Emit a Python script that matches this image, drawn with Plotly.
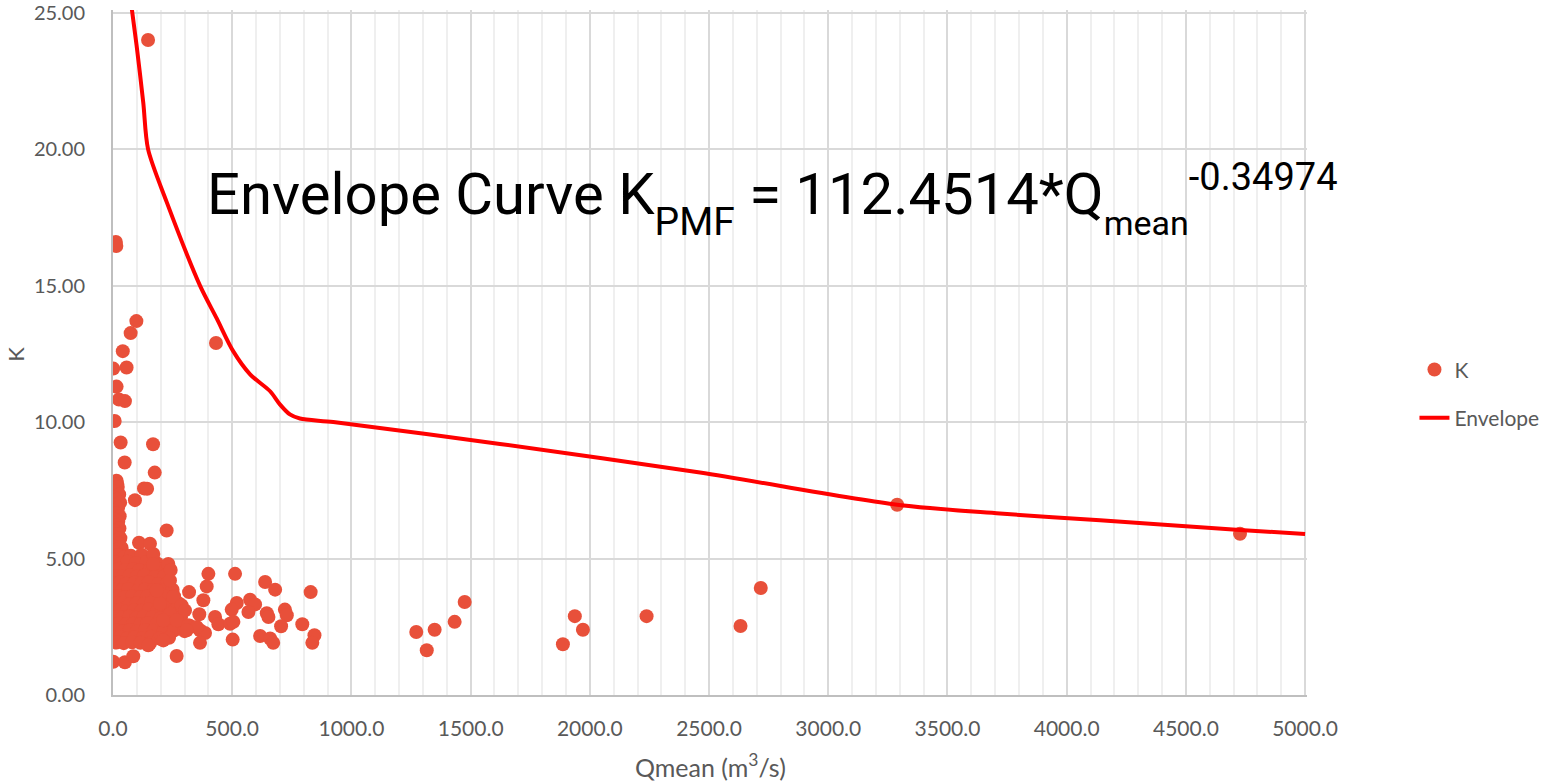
import plotly.graph_objects as go

# ---------------- data ----------------
# Observed K values against Qmean (m3/s)
q_high = [147, 12, 14, 432, 98, 74, 41, 1, 57, 15, 25, 50, 7, 32, 168, 49, 175,
          15, 18, 130, 143, 92, 225, 109, 155]
k_high = [24.0, 16.6, 16.45, 12.9, 13.7, 13.26, 12.6, 11.96, 12.0, 11.3, 10.83, 10.77,
          10.04, 9.25, 9.19, 8.52, 8.15, 7.85, 7.73, 7.57, 7.56, 7.14, 6.03, 5.58, 5.54]

q_column = [5, 20, 10, 26, 3, 16, 30, 8, 21, 2, 13, 28, 6, 22, 1, 15, 27, 8, 19, 4,
            31, 12, 23, 3, 36, 16, 8, 42, 27]
k_column = [7.7, 7.62, 7.45, 7.35, 7.25, 7.15, 7.05, 6.95, 6.85, 6.75, 6.65, 6.55, 6.45,
            6.35, 6.3, 6.2, 6.1, 6.0, 5.9, 5.8, 5.75, 5.65, 5.55, 5.45, 5.4, 5.32, 5.22,
            5.2, 5.12]

q_dense = [2, 20, 45, 75, 120, 165,
           10, 35, 60, 95, 140, 185,
           4, 25, 50, 85, 110, 155, 200,
           15, 40, 70, 100, 130, 175, 215,
           3, 28, 55, 90, 120, 150, 190, 228,
           12, 38, 65, 105, 135, 170, 210, 250,
           2, 24, 48, 80, 115, 145, 180, 220, 256,
           16, 42, 70, 100, 130, 160, 235, 275,
           5, 30, 58, 88, 120, 150, 185, 215, 262,
           12, 40, 68, 98, 128, 165, 200, 240, 285,
           3, 25, 52, 85, 115, 145, 180, 225, 268,
           15, 40, 70, 100, 135, 170, 210, 255, 300,
           5, 30, 60, 90, 125, 160, 195, 235,
           15, 45, 80, 115]
k_dense = [5.08, 5.12, 5.05, 5.1, 5.14, 5.06,
           4.86, 4.83, 4.88, 4.84, 4.87, 4.82,
           4.6, 4.63, 4.58, 4.62, 4.57, 4.61, 4.59,
           4.36, 4.33, 4.38, 4.34, 4.37, 4.32, 4.35,
           4.1, 4.12, 4.08, 4.11, 4.09, 4.13, 4.07, 4.1,
           3.86, 3.84, 3.88, 3.83, 3.87, 3.85, 3.82, 3.86,
           3.6, 3.62, 3.58, 3.61, 3.59, 3.63, 3.57, 3.6, 3.62,
           3.35, 3.37, 3.33, 3.36, 3.34, 3.38, 3.32, 3.36,
           3.1, 3.12, 3.08, 3.11, 3.09, 3.13, 3.07, 3.1, 3.12,
           2.86, 2.84, 2.88, 2.83, 2.87, 2.85, 2.82, 2.86, 2.84,
           2.6, 2.62, 2.58, 2.61, 2.59, 2.63, 2.57, 2.6, 2.62,
           2.36, 2.34, 2.38, 2.33, 2.37, 2.35, 2.32, 2.36, 2.34,
           2.1, 2.12, 2.08, 2.11, 2.09, 2.13, 2.07, 2.1,
           1.92, 1.9, 1.93, 1.91]

q_mid = [232, 242, 400, 512, 638, 680, 829, 393, 319, 379, 519, 498, 575, 596, 568,
         645, 652, 721, 729, 362, 428, 442, 491, 505, 705, 794, 320, 365, 386, 365,
         502, 617, 659, 672, 845, 836, 267, 211, 155, 253, 288, 302, 239, 211, 267,
         316, 351, 309, 197, 183, 169, 169, 239, 1, 50, 85, 148]
k_mid = [4.8, 4.58, 4.44, 4.44, 4.14, 3.86, 3.77, 3.98, 3.77, 3.47, 3.37, 3.13, 3.49,
         3.32, 3.04, 3.0, 2.86, 3.13, 2.92, 2.96, 2.86, 2.59, 2.61, 2.68, 2.52, 2.59,
         2.55, 2.37, 2.27, 1.91, 2.03, 2.16, 2.07, 1.91, 2.19, 1.91, 1.43, 2.0, 1.89,
         3.59, 3.28, 3.1, 2.98, 2.74, 2.74, 2.55, 2.49, 2.37, 3.35, 3.83, 5.17, 4.8,
         4.2, 1.22, 1.2, 1.42, 1.82]

q_far = [1272, 1316, 1349, 1433, 1475, 1887, 1937, 1971, 2238, 2632, 2717, 3289, 4727]
k_far = [2.31, 1.64, 2.39, 2.68, 3.41, 1.86, 2.89, 2.39, 2.89, 2.53, 3.92, 6.97, 5.91]

# Envelope curve points
q_env = [66, 99, 127, 147, 225, 365, 435, 504, 575, 659, 700, 742, 784, 924,
         1623, 2462, 3289, 3720, 4140, 4727, 5000]
k_env = [26.0, 23.8, 21.7, 20.0, 18.07, 15.0, 13.8, 12.6, 11.75, 11.13, 10.65, 10.28,
         10.13, 10.0, 9.2, 8.15, 6.97, 6.65, 6.4, 6.05, 5.9]

x_ticks = [0, 500, 1000, 1500, 2000, 2500, 3000, 3500, 4000, 4500, 5000]
y_ticks = [0, 5, 10, 15, 20, 25]

q_all = q_high + q_column + q_dense + q_mid + q_far
k_all = k_high + k_column + k_dense + k_mid + k_far

GREY = "#595959"
FONT = "Lato, 'Open Sans', sans-serif"

fig = go.Figure()
fig.add_trace(go.Scatter(
    x=q_all, y=k_all, mode="markers", name="K", legendgroup="k",
    marker=dict(color="#E8503A", size=14, line=dict(width=0)),
))
fig.add_trace(go.Scatter(
    x=q_env, y=k_env, mode="lines", name="Envelope", legendgroup="env",
    line=dict(color="#FF0000", width=4, shape="spline", smoothing=0.8),
))

fig.update_layout(
    width=1550, height=782,
    margin=dict(l=113, r=243, t=10, b=87, autoexpand=False),
    paper_bgcolor="white", plot_bgcolor="white",
    font=dict(family=FONT, size=20, color=GREY),
    showlegend=True,
    legend=dict(x=1.09, y=0.4396, xanchor="left", yanchor="middle",
                font=dict(size=21, color=GREY), tracegroupgap=18,
                bgcolor="rgba(0,0,0,0)"),
    xaxis=dict(
        range=[0, 5008], tickvals=x_ticks, ticktext=[f"{v:.1f}" for v in x_ticks],
        showgrid=True, gridcolor="#D9D9D9", gridwidth=1.5,
        minor=dict(dtick=100, showgrid=True, gridcolor="#EFEFEF", gridwidth=1.5),
        showline=True, linecolor="#BFBFBF", linewidth=2, zeroline=False,
        ticks="", ticklabelstandoff=14, automargin=False, ticklabeloverflow="allow",
        tickfont=dict(size=21, color=GREY),
    ),
    yaxis=dict(
        range=[0, 25.1], tickvals=y_ticks, ticktext=[f"{v:.2f}" for v in y_ticks],
        showgrid=True, gridcolor="#D9D9D9", gridwidth=1.5,
        showline=True, linecolor="#BFBFBF", linewidth=2, zeroline=False,
        ticks="", ticklabelstandoff=22, automargin=False, ticklabeloverflow="allow",
        tickfont=dict(size=20, color=GREY),
    ),
)

# axis titles
fig.add_annotation(
    xref="paper", yref="paper", x=0.5, y=-0.103, xanchor="center", yanchor="middle",
    text="Qmean (m<sup>3</sup>/s)", showarrow=False,
    font=dict(family=FONT, size=25, color=GREY),
)
fig.add_annotation(
    xref="paper", yref="paper", x=-0.082, y=0.497, xanchor="center", yanchor="middle",
    text="K", textangle=-90, showarrow=False,
    font=dict(family=FONT, size=22, color=GREY),
)

# equation label
fig.add_annotation(
    xref="paper", yref="paper", x=0.0771, y=0.722, xanchor="left", yanchor="middle",
    text=("Envelope Curve K<sub><sub><span style='font-size:39px'>PMF</span></sub></sub>"
          " = 112.4514*Q<sub><sub><span style='font-size:34px'>mean</span></sub></sub>"
          "<sup><span style='font-size:38px'>-0.34974</span></sup>"),
    showarrow=False,
    font=dict(family="Roboto, sans-serif", size=58, color="black"),
)

fig.write_html("out.html", config={"displayModeBar": False},
               post_script="document.body.style.margin='0';")
